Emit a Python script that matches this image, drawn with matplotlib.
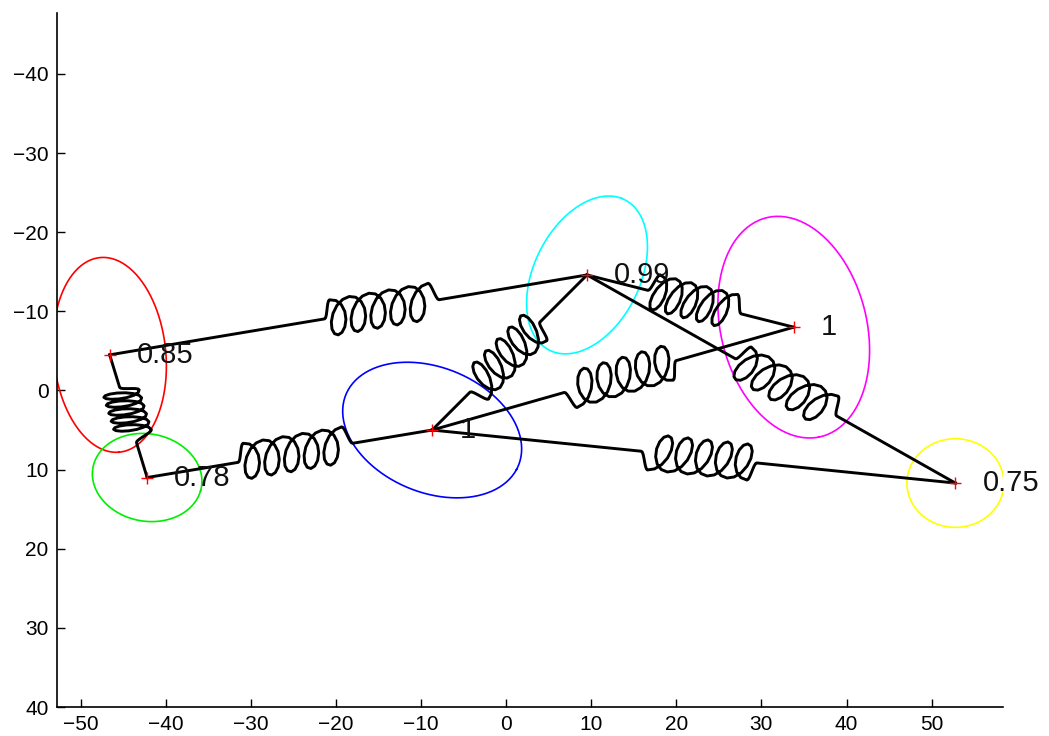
import numpy as np
import matplotlib.pyplot as plt

plt.rcParams['font.family'] = ['Liberation Sans', 'DejaVu Sans']

# node positions and the value printed next to each node
node_x = [-46.6, -42.2, -8.7, 9.5, 33.8, 52.8]
node_y = [-4.5, 11.0, 5.0, -14.6, -8.0, 11.7]
node_lbl = ['0.85', '0.78', '1', '0.99', '1', '0.75']

# ellipse round each node: semi axes and tilt (degrees, data coords)
ell_a = [12.35, 6.5, 11.1, 10.5, 14.2, 5.7]
ell_b = [6.6, 5.5, 7.8, 6.3, 8.6, 5.6]
ell_ang = [85, 15, 26.7, -67, 78, 0]
ell_col = ['#ff0000', '#00ee00', '#0000ff', '#00ffff', '#ff00ff', '#ffff00']

# springs between nodes, and where the coil sits along each one
spr_from = [0, 0, 1, 3, 4, 5, 3, 3]
spr_to = [1, 3, 2, 2, 2, 2, 4, 5]
spr_at = [0.49, 0.57, 0.52, 0.53, 0.48, 0.49, 0.52, 0.54]

xticks = np.arange(-50, 51, 10)
yticks = np.arange(-40, 41, 10)


def spring(p0, p1, at, turns=5):
    # coil drawn in screen pixels so loops look the same on every edge
    d = p1 - p0
    L = np.hypot(d[0], d[1])
    t = d / L
    n = np.array([t[1], -t[0]])  # right hand side on screen
    e = 8.0
    clen = min(116.0, 0.45 * L)
    pitch = (clen - 2 * e) / turns
    a = max(0.6 * pitch, 5.0)
    b = 18.0
    u0 = at * L - clen / 2
    s = np.linspace(0, 1, 8)
    u_in = u0 + e * s
    v_in = -b * (1 - np.cos(np.pi * s)) / 2
    th = np.linspace(np.pi, np.pi + 2 * np.pi * turns, 14 * turns + 1)
    v_c = b * np.cos(th)
    u_c = (u0 + e + pitch * (th - np.pi) / (2 * np.pi) - a * np.sin(th)
           - 0.2 * (v_c + b))
    u_out = u0 + e + pitch * turns + e * s
    v_out = -b * (1 + np.cos(np.pi * s)) / 2
    u = np.concatenate([[0], u_in, u_c, u_out, [L]])
    v = np.concatenate([[0], v_in, v_c, v_out, [0]])
    return p0 + np.outer(u, t) + np.outer(v, n)


fig = plt.figure(figsize=(10.49, 7.36), dpi=100)
ax = fig.add_axes([0.0543, 0.0394, 0.9019, 0.9429])
ax.set_xlim(-52.8, 58.4)
ax.set_ylim(40, -47.7)

# ellipses
tt = np.linspace(0, 2 * np.pi, 200)
for i in range(len(node_x)):
    ang = np.deg2rad(ell_ang[i])
    ex = ell_a[i] * np.cos(tt)
    ey = ell_b[i] * np.sin(tt)
    xs = node_x[i] + ex * np.cos(ang) - ey * np.sin(ang)
    ys = node_y[i] + ex * np.sin(ang) + ey * np.cos(ang)
    ax.plot(xs, ys, color=ell_col[i], lw=1.2)

# springs
trans = ax.transData
for k in range(len(spr_from)):
    i, j = spr_from[k], spr_to[k]
    p0 = trans.transform((node_x[i], node_y[i]))
    p1 = trans.transform((node_x[j], node_y[j]))
    pts = trans.inverted().transform(spring(p0, p1, spr_at[k]))
    ax.plot(pts[:, 0], pts[:, 1], color='black', lw=2.1,
            solid_joinstyle='round')

ax.plot(node_x, node_y, '+', color='red', ms=9, mew=1.0, zorder=5)
for i in range(len(node_x)):
    ax.text(node_x[i] + 3.2, node_y[i], node_lbl[i], fontsize=21,
            ha='left', va='center', color='#111111')

ax.set_xticks(xticks)
ax.set_yticks(yticks)
ax.spines['top'].set_visible(False)
ax.spines['right'].set_visible(False)
ax.spines['left'].set_linewidth(1.2)
ax.spines['bottom'].set_linewidth(1.2)
ax.tick_params(direction='in', length=6, width=1.0, labelsize=15, pad=6)

fig.savefig('out.png', dpi=100)
